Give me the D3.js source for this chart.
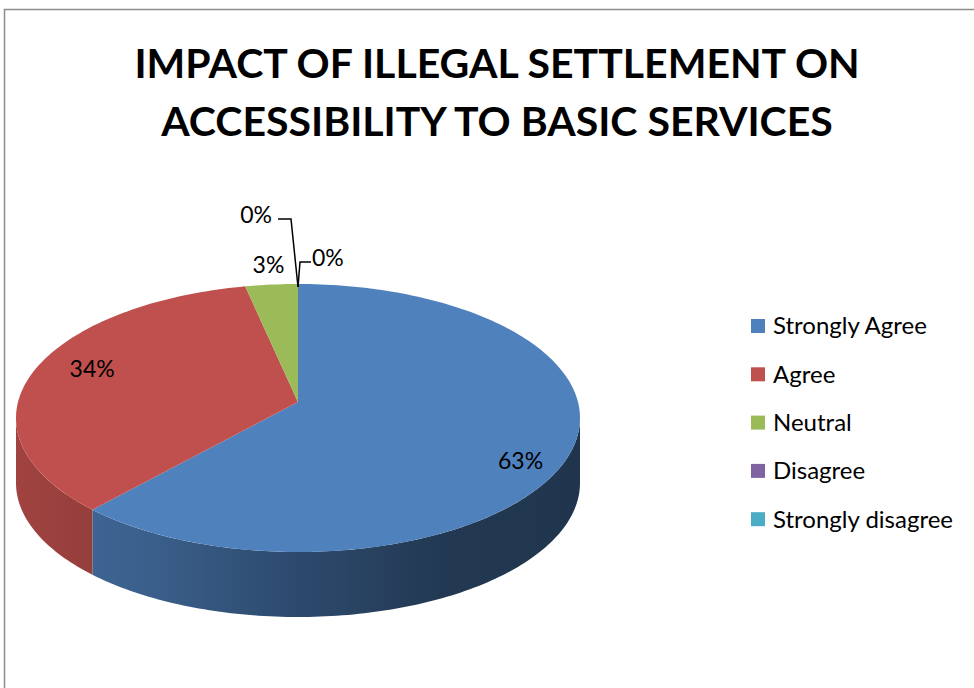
<!DOCTYPE html>
<html>
<head>
<meta charset="utf-8">
<script src="https://cdn.jsdelivr.net/npm/d3@7"></script>
<style>
  body { margin: 0; background: #fff; }
  svg text { font-family: Lato, "Open Sans", sans-serif; fill: #000; }
</style>
</head>
<body>
<div id="chart_box"></div>
<script>
// chart data
var titleLines = ["IMPACT OF ILLEGAL SETTLEMENT ON", "ACCESSIBILITY TO BASIC SERVICES"];
var categories = ["Strongly Agree", "Agree", "Neutral", "Disagree", "Strongly disagree"];
var values = [63, 34, 3, 0, 0];
var colors = ["#4f81bd", "#c0504d", "#9bbb59", "#8064a2", "#4bacc6"];

var width = 974, height = 688;

// pie geometry (tilted ellipse)
var cx = 298, cy = 418, rx = 282, ry = 134, depth = 65, apexLift = 16;

var svg = d3.select("#chart_box").append("svg")
    .attr("width", width)
    .attr("height", height);

// chart frame
svg.append("rect")
    .attr("x", 4.5).attr("y", 9.5)
    .attr("width", 1000).attr("height", 700)
    .attr("fill", "#fff")
    .attr("stroke", "#8c8c8c")
    .attr("stroke-width", 1.5);

// title
svg.append("g").selectAll("text")
    .data(titleLines)
    .enter().append("text")
    .attr("x", 497)
    .attr("y", function (d, i) { return 78 + i * 58; })
    .attr("text-anchor", "middle")
    .style("font-size", "41px")
    .style("font-weight", "bold")
    .text(function (d) { return d; });

var pie = d3.pie().sort(null).value(function (d) { return d; });
var arcs = pie(values);

function rim(a) {
    return [cx + rx * Math.sin(a), cy - ry * Math.cos(a)];
}
function rimPoints(a0, a1) {
    var n = Math.max(2, Math.ceil((a1 - a0) / 0.02));
    var pts = [];
    for (var i = 0; i <= n; i++) pts.push(rim(a0 + (a1 - a0) * i / n));
    return pts;
}

var defs = svg.append("defs");

// side wall gradients, darker toward the right
arcs.forEach(function (d, i) {
    var c = d3.color(colors[i]);
    var g = defs.append("linearGradient")
        .attr("id", "side" + i)
        .attr("gradientUnits", "userSpaceOnUse")
        .attr("x1", cx - rx).attr("x2", cx + rx)
        .attr("y1", 0).attr("y2", 0);
    [[0, 0.5], [0.25, 0.9], [0.5, 1.55], [0.75, 2.3], [1, 2.5]].forEach(function (s) {
        g.append("stop").attr("offset", s[0]).attr("stop-color", c.darker(s[1]));
    });
});

var line = d3.line();

// front walls: only the part of the rim facing the viewer
var sides = svg.append("g");
arcs.forEach(function (d, i) {
    var a0 = Math.max(d.startAngle, Math.PI / 2);
    var a1 = Math.min(d.endAngle, 3 * Math.PI / 2);
    if (a1 <= a0) return;
    var top = rimPoints(a0, a1);
    var bottom = top.map(function (p) { return [p[0], p[1] + depth]; }).reverse();
    sides.append("path")
        .attr("d", line(top.concat(bottom)) + "Z")
        .attr("fill", "url(#side" + i + ")");
});

// top faces
var apex = [cx, cy - apexLift];
svg.append("g").selectAll("path")
    .data(arcs.filter(function (d) { return d.endAngle > d.startAngle; }))
    .enter().append("path")
    .attr("d", function (d) {
        return line([apex].concat(rimPoints(d.startAngle, d.endAngle))) + "Z";
    })
    .attr("fill", function (d) { return colors[d.index]; });

// data labels
var fmt = function (v) { return Math.round(v) + "%"; };
var total = d3.sum(values);
var labels = svg.append("g").style("font-size", "23px");

function midRim(d, f) {
    var a = (d.startAngle + d.endAngle) / 2;
    return [cx + rx * f * Math.sin(a), cy - ry * f * Math.cos(a)];
}

// large slices: inside
var inside = [[arcs[0], 0.86, 0, -3], [arcs[1], 0.76, -2, -18]];
inside.forEach(function (s) {
    var p = midRim(s[0], s[1]);
    labels.append("text")
        .attr("x", p[0] + s[2]).attr("y", p[1] + s[3])
        .attr("dy", "0.35em")
        .attr("text-anchor", "middle")
        .text(fmt(s[0].value / total * 100));
});

// small slice: just outside the rim
var p3 = midRim(arcs[2], 1);
labels.append("text")
    .attr("x", p3[0] - 3).attr("y", p3[1] - 20)
    .attr("dy", "0.35em")
    .attr("text-anchor", "middle")
    .text(fmt(arcs[2].value / total * 100));

// zero slices: labels with leader lines
var r0 = rim(arcs[3].startAngle);
var leaders = [
    { d: arcs[3], tx: 272, ty: 215, anchor: "end", pts: [[r0[0], r0[1] + 3], [r0[0] - 7, 219], [278, 219]] },
    { d: arcs[4], tx: 312, ty: 258, anchor: "start", pts: [[r0[0], r0[1] + 3], [300, 262], [311, 262]] }
];
leaders.forEach(function (l) {
    svg.append("path")
        .attr("d", line(l.pts))
        .attr("fill", "none")
        .attr("stroke", "#000")
        .attr("stroke-width", 1.5);
    labels.append("text")
        .attr("x", l.tx).attr("y", l.ty)
        .attr("dy", "0.35em")
        .attr("text-anchor", l.anchor)
        .text(fmt(l.d.value / total * 100));
});

// legend
var legend = svg.append("g").attr("transform", "translate(751,326)");
var item = legend.selectAll(".item")
    .data(categories)
    .enter().append("g")
    .attr("class", "item")
    .attr("transform", function (d, i) { return "translate(0," + (i * 48.3) + ")"; });
item.append("rect")
    .attr("x", 0).attr("y", -7)
    .attr("width", 14).attr("height", 14)
    .attr("fill", function (d, i) { return colors[i]; });
item.append("text")
    .attr("x", 22)
    .attr("dy", "0.35em")
    .style("font-size", "24px")
    .text(function (d) { return d; });
</script>
</body>
</html>
